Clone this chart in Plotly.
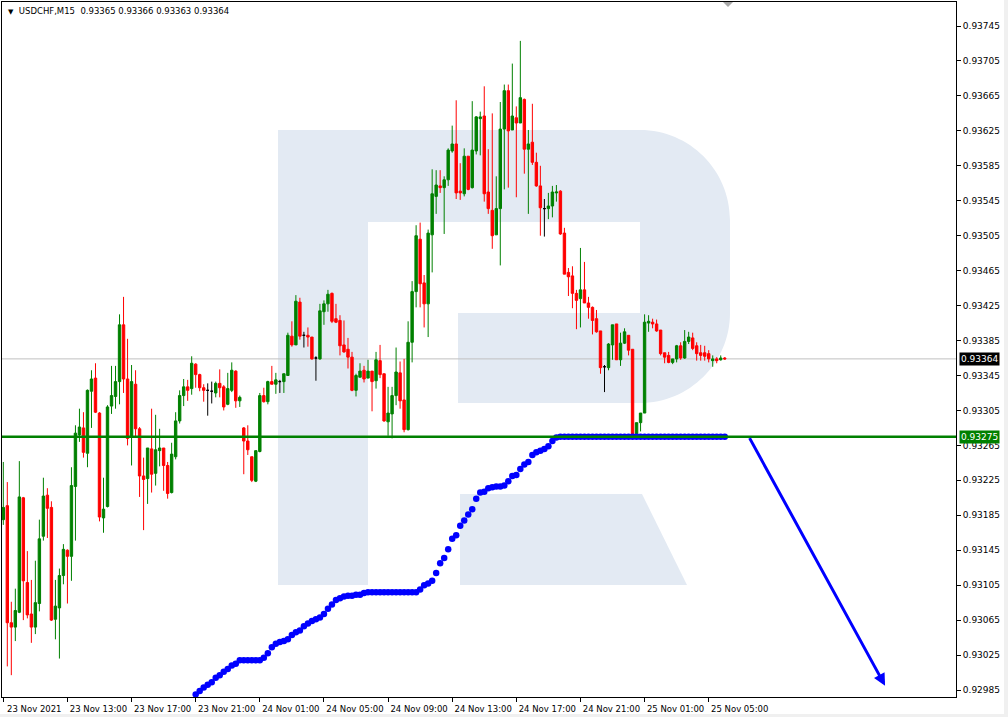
import pandas as pd
import plotly.graph_objects as go

# ---------------- data ----------------
symbol = "USDCHF,M15"
start_time = "2021-11-23 09:00"
bar_minutes = 15

opens = [
    0.93180, 0.93196, 0.93062, 0.93057, 0.93074, 0.93205, 0.93108, 0.93072, 0.93057, 0.93084,
    0.93161, 0.93208, 0.93194, 0.93066, 0.93079, 0.93116, 0.93145, 0.93138, 0.93218, 0.93277,
    0.93285, 0.93256, 0.93327, 0.93342, 0.93302, 0.93182, 0.93195, 0.93310, 0.93321, 0.93338,
    0.93403, 0.93341, 0.93275, 0.93335, 0.93284, 0.93230, 0.93227, 0.93261, 0.93233, 0.93259,
    0.93262, 0.93242, 0.93211, 0.93252, 0.93293, 0.93322, 0.93332, 0.93330, 0.93358, 0.93346,
    0.93331, 0.93328, 0.93327, 0.93325, 0.93336, 0.93332, 0.93312, 0.93328, 0.93350, 0.93316,
    0.93285, 0.93270, 0.93252, 0.93224, 0.93258, 0.93322, 0.93315, 0.93338, 0.93335, 0.93338,
    0.93338, 0.93345, 0.93390, 0.93380, 0.93429, 0.93391, 0.93391, 0.93389, 0.93365, 0.93364,
    0.93418, 0.93427, 0.93439, 0.93410, 0.93408, 0.93380, 0.93375, 0.93366, 0.93328, 0.93343,
    0.93351, 0.93342, 0.93350, 0.93339, 0.93362, 0.93347, 0.93292, 0.93301, 0.93322, 0.93348,
    0.93317, 0.93283, 0.93383, 0.93441, 0.93501, 0.93451, 0.93427, 0.93506, 0.93550, 0.93562,
    0.93560, 0.93569, 0.93602, 0.93610, 0.93556, 0.93553, 0.93596, 0.93560, 0.93602, 0.93639,
    0.93642, 0.93555, 0.93534, 0.93506, 0.93536, 0.93627, 0.93671, 0.93626, 0.93640, 0.93634,
    0.93661, 0.93604, 0.93612, 0.93589, 0.93562, 0.93536, 0.93536, 0.93539, 0.93554, 0.93556,
    0.93508, 0.93463, 0.93459, 0.93439, 0.93433, 0.93443, 0.93428, 0.93423, 0.93410, 0.93396,
    0.93355, 0.93354, 0.93380, 0.93404, 0.93363, 0.93382, 0.93391, 0.93375, 0.93277, 0.93291,
    0.93302, 0.93405, 0.93406, 0.93404, 0.93397, 0.93371, 0.93368, 0.93360, 0.93364, 0.93379,
    0.93365, 0.93384, 0.93388, 0.93379, 0.93371, 0.93371, 0.93370, 0.93362, 0.93364, 0.93363,
    0.93365,
]
highs = [
    0.93246, 0.93223, 0.93086, 0.93101, 0.93247, 0.93206, 0.93144, 0.93111, 0.93133, 0.93180,
    0.93228, 0.93216, 0.93201, 0.93111, 0.93124, 0.93152, 0.93146, 0.93240, 0.93288, 0.93307,
    0.93303, 0.93329, 0.93351, 0.93359, 0.93303, 0.93228, 0.93311, 0.93356, 0.93356, 0.93415,
    0.93435, 0.93387, 0.93357, 0.93351, 0.93286, 0.93251, 0.93262, 0.93307, 0.93300, 0.93284,
    0.93262, 0.93246, 0.93268, 0.93303, 0.93328, 0.93341, 0.93340, 0.93367, 0.93359, 0.93347,
    0.93335, 0.93336, 0.93338, 0.93338, 0.93352, 0.93334, 0.93348, 0.93360, 0.93351, 0.93322,
    0.93286, 0.93288, 0.93252, 0.93259, 0.93325, 0.93331, 0.93339, 0.93356, 0.93348, 0.93340,
    0.93347, 0.93394, 0.93407, 0.93437, 0.93434, 0.93395, 0.93400, 0.93389, 0.93367, 0.93427,
    0.93431, 0.93443, 0.93440, 0.93427, 0.93414, 0.93408, 0.93388, 0.93372, 0.93347, 0.93359,
    0.93356, 0.93363, 0.93350, 0.93372, 0.93380, 0.93347, 0.93332, 0.93332, 0.93377, 0.93361,
    0.93364, 0.93407, 0.93453, 0.93517, 0.93520, 0.93460, 0.93512, 0.93581, 0.93580, 0.93580,
    0.93573, 0.93605, 0.93631, 0.93660, 0.93588, 0.93605, 0.93596, 0.93659, 0.93642, 0.93647,
    0.93676, 0.93604, 0.93645, 0.93573, 0.93658, 0.93678, 0.93678, 0.93702, 0.93653, 0.93728,
    0.93662, 0.93626, 0.93656, 0.93600, 0.93585, 0.93547, 0.93554, 0.93562, 0.93563, 0.93557,
    0.93514, 0.93468, 0.93470, 0.93443, 0.93491, 0.93475, 0.93435, 0.93424, 0.93420, 0.93396,
    0.93357, 0.93382, 0.93403, 0.93404, 0.93394, 0.93399, 0.93391, 0.93375, 0.93291, 0.93302,
    0.93415, 0.93414, 0.93410, 0.93409, 0.93397, 0.93371, 0.93372, 0.93364, 0.93380, 0.93383,
    0.93397, 0.93395, 0.93394, 0.93383, 0.93380, 0.93379, 0.93374, 0.93368, 0.93366, 0.93368,
    0.93366,
]
lows = [
    0.93174, 0.93012, 0.93002, 0.93041, 0.93073, 0.93065, 0.93067, 0.93039, 0.93049, 0.93075,
    0.93156, 0.93159, 0.93064, 0.93043, 0.93021, 0.93106, 0.93084, 0.93110, 0.93156, 0.93269,
    0.93251, 0.93240, 0.93285, 0.93302, 0.93178, 0.93165, 0.93194, 0.93301, 0.93307, 0.93312,
    0.93325, 0.93265, 0.93242, 0.93275, 0.93206, 0.93168, 0.93198, 0.93211, 0.93219, 0.93241,
    0.93213, 0.93204, 0.93210, 0.93249, 0.93290, 0.93310, 0.93316, 0.93323, 0.93331, 0.93327,
    0.93315, 0.93299, 0.93313, 0.93320, 0.93320, 0.93305, 0.93311, 0.93326, 0.93308, 0.93309,
    0.93232, 0.93254, 0.93223, 0.93223, 0.93257, 0.93314, 0.93312, 0.93335, 0.93324, 0.93325,
    0.93325, 0.93345, 0.93378, 0.93380, 0.93386, 0.93377, 0.93378, 0.93363, 0.93339, 0.93363,
    0.93403, 0.93418, 0.93405, 0.93405, 0.93368, 0.93371, 0.93353, 0.93327, 0.93321, 0.93343,
    0.93337, 0.93342, 0.93304, 0.93330, 0.93342, 0.93292, 0.93276, 0.93273, 0.93311, 0.93307,
    0.93280, 0.93282, 0.93360, 0.93423, 0.93423, 0.93400, 0.93389, 0.93463, 0.93530, 0.93554,
    0.93507, 0.93562, 0.93600, 0.93547, 0.93546, 0.93550, 0.93557, 0.93559, 0.93598, 0.93597,
    0.93544, 0.93530, 0.93490, 0.93506, 0.93471, 0.93558, 0.93560, 0.93626, 0.93549, 0.93634,
    0.93576, 0.93530, 0.93586, 0.93561, 0.93505, 0.93504, 0.93524, 0.93526, 0.93544, 0.93506,
    0.93461, 0.93436, 0.93422, 0.93398, 0.93400, 0.93428, 0.93410, 0.93392, 0.93394, 0.93347,
    0.93326, 0.93351, 0.93363, 0.93363, 0.93356, 0.93381, 0.93368, 0.93276, 0.93277, 0.93281,
    0.93302, 0.93395, 0.93399, 0.93395, 0.93368, 0.93359, 0.93359, 0.93358, 0.93360, 0.93363,
    0.93364, 0.93381, 0.93374, 0.93362, 0.93362, 0.93362, 0.93360, 0.93355, 0.93359, 0.93362,
    0.93363,
]
closes = [
    0.93194, 0.93062, 0.93057, 0.93076, 0.93206, 0.93110, 0.93071, 0.93057, 0.93085, 0.93158,
    0.93207, 0.93193, 0.93065, 0.93081, 0.93116, 0.93146, 0.93138, 0.93219, 0.93279, 0.93286,
    0.93257, 0.93328, 0.93341, 0.93303, 0.93183, 0.93192, 0.93309, 0.93322, 0.93338, 0.93403,
    0.93341, 0.93273, 0.93338, 0.93284, 0.93230, 0.93226, 0.93262, 0.93232, 0.93260, 0.93262,
    0.93242, 0.93210, 0.93255, 0.93293, 0.93322, 0.93332, 0.93328, 0.93359, 0.93346, 0.93331,
    0.93328, 0.93328, 0.93327, 0.93336, 0.93331, 0.93309, 0.93330, 0.93351, 0.93316, 0.93320,
    0.93270, 0.93260, 0.93225, 0.93259, 0.93322, 0.93315, 0.93338, 0.93335, 0.93340, 0.93338,
    0.93347, 0.93391, 0.93380, 0.93430, 0.93390, 0.93391, 0.93389, 0.93364, 0.93365, 0.93419,
    0.93427, 0.93438, 0.93407, 0.93406, 0.93379, 0.93372, 0.93366, 0.93328, 0.93345, 0.93350,
    0.93341, 0.93350, 0.93338, 0.93363, 0.93346, 0.93293, 0.93302, 0.93322, 0.93349, 0.93316,
    0.93283, 0.93383, 0.93441, 0.93505, 0.93450, 0.93427, 0.93508, 0.93553, 0.93563, 0.93560,
    0.93569, 0.93603, 0.93610, 0.93554, 0.93554, 0.93596, 0.93558, 0.93603, 0.93641, 0.93641,
    0.93553, 0.93536, 0.93505, 0.93536, 0.93627, 0.93671, 0.93625, 0.93642, 0.93634, 0.93663,
    0.93604, 0.93610, 0.93589, 0.93562, 0.93537, 0.93536, 0.93539, 0.93555, 0.93555, 0.93507,
    0.93461, 0.93458, 0.93439, 0.93431, 0.93443, 0.93428, 0.93423, 0.93408, 0.93395, 0.93354,
    0.93355, 0.93381, 0.93403, 0.93363, 0.93382, 0.93395, 0.93374, 0.93277, 0.93291, 0.93302,
    0.93406, 0.93407, 0.93404, 0.93396, 0.93370, 0.93366, 0.93360, 0.93364, 0.93379, 0.93365,
    0.93384, 0.93389, 0.93376, 0.93370, 0.93368, 0.93367, 0.93364, 0.93364, 0.93362, 0.93365,
    0.93364,
]

# dotted indicator: one value per bar, starting at bar index 48
dots_start_bar = 48
dots = [
    0.92980, 0.92984, 0.92988, 0.92991, 0.92994, 0.92999, 0.93002, 0.93006, 0.93009, 0.93013,
    0.93015, 0.93019, 0.93019, 0.93019, 0.93019, 0.93019, 0.93019, 0.93022, 0.93027, 0.93034,
    0.93038, 0.93040, 0.93041, 0.93043, 0.93048, 0.93051, 0.93053, 0.93058, 0.93061, 0.93064,
    0.93066, 0.93068, 0.93072, 0.93078, 0.93083, 0.93088, 0.93090, 0.93092, 0.93093, 0.93093,
    0.93094, 0.93094, 0.93096, 0.93097, 0.93097, 0.93097, 0.93097, 0.93097, 0.93097, 0.93097,
    0.93097, 0.93097, 0.93097, 0.93097, 0.93097, 0.93097, 0.93100, 0.93105, 0.93107, 0.93110,
    0.93119, 0.93130, 0.93136, 0.93146, 0.93158, 0.93162, 0.93173, 0.93179, 0.93186, 0.93192,
    0.93204, 0.93211, 0.93212, 0.93216, 0.93217, 0.93218, 0.93218, 0.93219, 0.93224, 0.93230,
    0.93231, 0.93238, 0.93243, 0.93246, 0.93254, 0.93257, 0.93259, 0.93261, 0.93264, 0.93270,
    0.93274, 0.93275, 0.93275, 0.93275, 0.93275, 0.93275, 0.93275, 0.93275, 0.93275, 0.93275,
    0.93275, 0.93275, 0.93275, 0.93275, 0.93275, 0.93275, 0.93275, 0.93275, 0.93275, 0.93275,
    0.93275, 0.93275, 0.93275, 0.93275, 0.93275, 0.93275, 0.93275, 0.93275, 0.93275, 0.93275,
    0.93275, 0.93275, 0.93275, 0.93275, 0.93275, 0.93275, 0.93275, 0.93275, 0.93275, 0.93275,
    0.93275, 0.93275, 0.93275,
]

support_level = 0.93275
bid_level = 0.93364

arrow_from_time = "2021-11-25 07:30"
arrow_from_price = 0.93275
arrow_to_time = "2021-11-25 16:00"
arrow_to_price = 0.92990

x_tick_times = ["2021-11-23 09:00", "2021-11-23 13:00", "2021-11-23 17:00", "2021-11-23 21:00",
                "2021-11-24 01:00", "2021-11-24 05:00", "2021-11-24 09:00", "2021-11-24 13:00",
                "2021-11-24 17:00", "2021-11-24 21:00", "2021-11-25 01:00", "2021-11-25 05:00"]
x_tick_labels = ["23 Nov 2021", "23 Nov 13:00", "23 Nov 17:00", "23 Nov 21:00",
                 "24 Nov 01:00", "24 Nov 05:00", "24 Nov 09:00", "24 Nov 13:00",
                 "24 Nov 17:00", "24 Nov 21:00", "25 Nov 01:00", "25 Nov 05:00"]
y_tick_values = [0.92985, 0.93025, 0.93065, 0.93105, 0.93145, 0.93185, 0.93225, 0.93265,
                 0.93305, 0.93345, 0.93385, 0.93425, 0.93465, 0.93505, 0.93545, 0.93585,
                 0.93625, 0.93665, 0.93705, 0.93745]

# ---------------- styling / layout ----------------
W, H = 1008, 717
PL, PR, PT, PB = 2, 956, 2, 697          # plot-area pixel box
GREEN = "#008000"
RED = "#ff0000"
BLUE = "#0000ff"
WATERMARK = "#e3eaf3"
FONT = "DejaVu Sans"

n = len(opens)
times = pd.date_range(start_time, periods=n, freq=f"{bar_minutes}min")
step = pd.Timedelta(minutes=bar_minutes)
x_left = times[0] - step * 0.325
x_right = times[0] + step * 237.7
y_lo, y_hi = 0.92977, 0.937725


def pxx(x):
    return (x - PL) / (PR - PL)


def pxy(y):
    return (PB - y) / (PB - PT)


def path_from(points_cmds):
    out = []
    for cmd, pts in points_cmds:
        coords = " ".join(f"{pxx(x):.5f},{pxy(y):.5f}" for x, y in pts)
        out.append(f"{cmd}{coords}")
    return " ".join(out) + " Z"


fig = go.Figure()

# watermark "R" logo
r_body = path_from([
    ("M", [(278, 130)]), ("L", [(640, 130)]),
    ("C", [(689.7, 130), (730, 170.3), (730, 220)]),
    ("L", [(730, 313)]),
    ("C", [(730, 362.7), (689.7, 403), (640, 403)]),
    ("L", [(458, 403)]), ("L", [(458, 313)]), ("L", [(640, 313)]),
    ("L", [(640, 222)]), ("L", [(368, 222)]), ("L", [(368, 585)]),
    ("L", [(278, 585)]),
])
r_leg = path_from([
    ("M", [(460, 494)]), ("L", [(642, 494)]), ("L", [(687, 585)]), ("L", [(460, 585)]),
])
for p in (r_body, r_leg):
    fig.add_shape(type="path", path=p, xref="paper", yref="paper",
                  fillcolor=WATERMARK, line=dict(width=0), layer="below")

# bid line
fig.add_shape(type="line", xref="paper", x0=0, x1=1, yref="y", y0=bid_level, y1=bid_level,
              line=dict(color="#c0c0c0", width=1), layer="below")

# candles (non-doji)
idx_n = [i for i in range(n) if opens[i] != closes[i]]
idx_d = [i for i in range(n) if opens[i] == closes[i]]

fig.add_trace(go.Candlestick(
    x=[times[i] for i in idx_n],
    open=[opens[i] for i in idx_n], high=[highs[i] for i in idx_n],
    low=[lows[i] for i in idx_n], close=[closes[i] for i in idx_n],
    increasing=dict(line=dict(color=GREEN, width=1), fillcolor=GREEN),
    decreasing=dict(line=dict(color=RED, width=1), fillcolor=RED),
    whiskerwidth=0, hoverinfo="skip", showlegend=False,
))
fig.add_trace(go.Candlestick(
    x=[times[i] for i in idx_d],
    open=[opens[i] for i in idx_d], high=[highs[i] for i in idx_d],
    low=[lows[i] for i in idx_d], close=[closes[i] for i in idx_d],
    increasing=dict(line=dict(color="#000000", width=1), fillcolor="#000000"),
    decreasing=dict(line=dict(color="#000000", width=1), fillcolor="#000000"),
    whiskerwidth=0, hoverinfo="skip", showlegend=False,
))

# dotted indicator
fig.add_trace(go.Scatter(
    x=times[dots_start_bar:dots_start_bar + len(dots)], y=dots, mode="markers",
    marker=dict(color=BLUE, size=6.5, line=dict(width=0)),
    hoverinfo="skip", showlegend=False,
))

# support line (drawn above)
fig.add_shape(type="line", xref="paper", x0=0, x1=1, yref="y", y0=support_level, y1=support_level,
              line=dict(color=GREEN, width=2.5), layer="above")

# forecast arrow
fig.add_annotation(x=arrow_to_time, y=arrow_to_price, ax=arrow_from_time, ay=arrow_from_price,
                   xref="x", yref="y", axref="x", ayref="y", text="", showarrow=True,
                   arrowhead=2, arrowsize=0.8, arrowwidth=3, arrowcolor=BLUE)

# header text
fig.add_annotation(xref="paper", yref="paper", x=0, y=1, xanchor="left", yanchor="top",
                   xshift=4, yshift=-2, showarrow=False,
                   text=f"<span style='font-size:7px'>▼</span>\u00a0\u00a0{symbol}\u00a0\u00a0"
                        f"{opens[-1]:.5f} {highs[-1]:.5f} {lows[-1]:.5f} {closes[-1]:.5f}",
                   font=dict(family=FONT, size=8.5, color="#000000"))

# price labels on the right axis
for lvl, bg in ((bid_level, "#000000"), (support_level, GREEN)):
    fig.add_annotation(xref="paper", yref="y", x=1, y=lvl, xanchor="left", yanchor="middle",
                       xshift=3, showarrow=False, text=f"{lvl:.5f}",
                       font=dict(family=FONT, size=9, color="#ffffff"),
                       bgcolor=bg, borderpad=1)

# small chart-shift marker at the top
fig.add_shape(type="path", xref="paper", yref="paper",
              path=path_from([("M", [(723, 2)]), ("L", [(733, 2)]), ("L", [(728, 7)])]),
              fillcolor="#a8a8a8", line=dict(width=0), layer="above")

# light window strips (right and bottom edges)
fig.add_shape(type="rect", xref="paper", yref="paper",
              x0=pxx(1004), x1=pxx(1009), y0=pxy(718), y1=pxy(-1),
              fillcolor="#f0f0f0", line=dict(width=0), layer="above")
fig.add_shape(type="rect", xref="paper", yref="paper",
              x0=pxx(-1), x1=pxx(1009), y0=pxy(718), y1=pxy(714),
              fillcolor="#f0f0f0", line=dict(width=0), layer="above")

fig.update_layout(
    width=W, height=H, template="none",
    margin=dict(l=PL, r=W - PR, t=PT, b=H - PB, pad=0),
    paper_bgcolor="#ffffff", plot_bgcolor="#ffffff",
    showlegend=False, hovermode=False, boxmode="overlay", boxgap=0.25, boxgroupgap=0.2,
    font=dict(family=FONT, size=9, color="#000000"),
    xaxis=dict(
        type="date", range=[x_left, x_right], rangeslider=dict(visible=False),
        tickvals=x_tick_times, ticktext=x_tick_labels,
        ticks="outside", ticklen=4, tickwidth=1, tickcolor="#000000",
        ticklabelshift=31, tickfont=dict(family=FONT, size=8.5, color="#000000"),
        showline=True, linecolor="#000000", linewidth=1, mirror=True,
        showgrid=False, zeroline=False, automargin=False, fixedrange=True,
    ),
    yaxis=dict(
        side="right", range=[y_lo, y_hi],
        tickvals=y_tick_values, ticktext=[f"{v:.5f}" for v in y_tick_values],
        ticks="outside", ticklen=4, tickwidth=1, tickcolor="#000000",
        tickfont=dict(family=FONT, size=9, color="#000000"),
        showline=True, linecolor="#000000", linewidth=1, mirror=True,
        showgrid=False, zeroline=False, automargin=False, fixedrange=True,
    ),
)

fig.write_html(
    "out.html",
    config={"displayModeBar": False, "staticPlot": True},
    post_script="document.body.style.margin='0px';document.body.style.overflow='hidden';",
)
